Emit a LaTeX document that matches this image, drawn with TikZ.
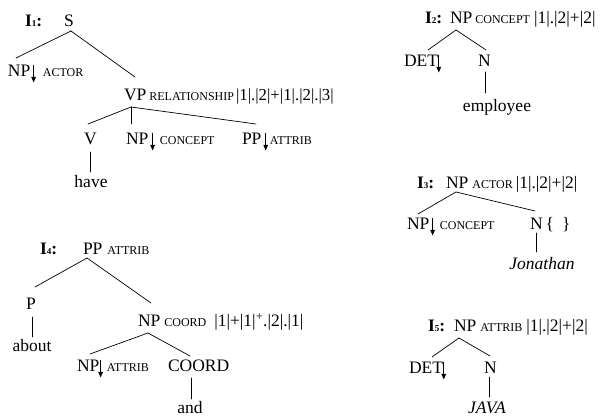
\documentclass[tikz,border=0pt]{standalone}
\usepackage{fontspec}
\setmainfont{Liberation Serif}
\usetikzlibrary{arrows.meta}
\newcommand{\fs}{\fontsize{17.5}{20}\selectfont}
\newcommand{\smc}[1]{{\fontsize{12}{14}\selectfont #1}}
\newcommand{\darr}{\tikz[baseline=0pt]\draw[line width=0.9pt,-{Triangle[length=5.5pt,width=4.5pt]}] (0pt,12pt)--(0pt,-5.5pt);}
\newcommand{\lab}[1]{\textbf{I}{\fontsize{9}{9}\selectfont\textbf{#1}}\textbf{:}}
\begin{document}
\begin{tikzpicture}[x=1pt,y=-1pt,
  lbl/.style={anchor=base west,inner sep=0pt,outer sep=0pt,font=\fs},
  leaf/.style={anchor=base,inner sep=0pt,outer sep=0pt,font=\fs},
  br/.style={line width=0.7pt,line cap=round}]
\useasboundingbox (0,0) rectangle (603,419);
% ---------- I1 ----------
\node[lbl] (l1) at (25,27) {\lab{1}};
\node[lbl] (s) at (64,27) {S};
\node[lbl] (npa) at (8,77) {NP\hspace{1pt}\darr\hspace{7pt}\smc{ACTOR}};
\node[lbl] (vp) at (124,101) {VP\hspace{3pt}\smc{RELATIONSHIP}\hspace{2pt}{\fontsize{16.8}{20}\selectfont|1|.|2|+|1|.|2|.|3|}};
\node[lbl] (v) at (84,145) {V};
\node[lbl] (npc) at (126,145) {NP\hspace{2pt}\darr\hspace{5pt}\smc{CONCEPT}};
\node[lbl] (ppa) at (242,145) {PP\hspace{2pt}\darr\hspace{2pt}\smc{ATTRIB}};
\node[leaf] (have) at (91,188) {have};
\draw[br] ([shift={(7,4)}]s.base west) -- ([shift={(8,-19)}]npa.base west);
\draw[br] ([shift={(7,4)}]s.base west) -- ([shift={(11,-24)}]vp.base west);
\draw[br] ([shift={(7,6)}]vp.base west) -- ([shift={(4,-21)}]v.base west);
\draw[br] ([shift={(7,6)}]vp.base west) -- ([shift={(5,-21)}]npc.base west);
\draw[br] ([shift={(7,6)}]vp.base west) -- ([shift={(14,-21)}]ppa.base west);
\draw[br] ([shift={(6,7)}]v.base west) -- ([shift={(-1,-16)}]have.base);
% ---------- I4 ----------
\node[lbl] (l4) at (40,255) {\lab{4}};
\node[lbl] (pp4) at (83,255) {PP\hspace{5pt}\smc{ATTRIB}};
\node[lbl] (p4) at (26,310) {P};
\node[leaf] (about) at (32,352) {about};
\node[lbl] (npco) at (138,327) {NP\hspace{4pt}\smc{COORD}\hspace{8pt}|1|+|1|\textsuperscript{+}.|2|.|1|};
\node[lbl] (npat) at (77,372) {NP\hspace{-1pt}\darr\hspace{4pt}\smc{ATTRIB}};
\node[lbl] (coord) at (168,372) {COORD};
\node[leaf] (and) at (190,414) {and};
\draw[br] ([shift={(4,3)}]pp4.base west) -- ([shift={(9,-23)}]p4.base west);
\draw[br] ([shift={(4,3)}]pp4.base west) -- ([shift={(13,-24)}]npco.base west);
\draw[br] ([shift={(6,7)}]p4.base west) -- ([shift={(0,-15)}]about.base);
\draw[br] ([shift={(10,6)}]npco.base west) -- ([shift={(13,-18)}]npat.base west);
\draw[br] ([shift={(10,6)}]npco.base west) -- ([shift={(22,-16)}]coord.base west);
\draw[br] ([shift={(23,6)}]coord.base west) -- ([shift={(1,-15)}]and.base);
% ---------- I2 ----------
\node[lbl] (l2) at (425,24) {\lab{2}};
\node[lbl] (np2) at (450,24) {NP\hspace{3pt}\smc{CONCEPT}\hspace{4pt}|1|.|2|+|2|};
\node[lbl] (det2) at (404,67) {DET\hspace{-1.5pt}\darr};
\node[lbl] (n2) at (478,67) {N};
\node[leaf] (emp) at (497,112) {employee};
\draw[br] ([shift={(6,6)}]np2.base west) -- ([shift={(24,-17)}]det2.base west);
\draw[br] ([shift={(6,6)}]np2.base west) -- ([shift={(8,-17)}]n2.base west);
\draw[br] ([shift={(7,5)}]n2.base west) -- ([shift={(-12,-19)}]emp.base);
% ---------- I3 ----------
\node[lbl] (l3) at (417,189) {\lab{3}};
\node[lbl] (np3) at (446,189) {NP\hspace{4pt}\smc{ACTOR}\hspace{3pt}|1|.|2|+|2|};
\node[lbl] (npc3) at (407,230) {NP\hspace{1pt}\darr\hspace{5pt}\smc{CONCEPT}};
\node[lbl] (n3) at (530,230) {N\hspace{3pt}\{\hspace{8pt}\}};
\node[leaf] (jon) at (542,270) {\itshape Jonathan};
\draw[br] ([shift={(10,3)}]np3.base west) -- ([shift={(11,-16)}]npc3.base west);
\draw[br] ([shift={(10,3)}]np3.base west) -- ([shift={(5,-19)}]n3.base west);
\draw[br] ([shift={(6,3)}]n3.base west) -- ([shift={(-6,-18)}]jon.base);
% ---------- I5 ----------
\node[lbl] (l5) at (428,332) {\lab{5}};
\node[lbl] (np5) at (454,332) {NP\hspace{4pt}\smc{ATTRIB}\hspace{4pt}|1|.|2|+|2|};
\node[lbl] (det5) at (409,374) {DET\hspace{-1.5pt}\darr};
\node[lbl] (n5) at (484,374) {N};
\node[leaf] (java) at (487,414) {\itshape JAVA};
\draw[br] ([shift={(5,6)}]np5.base west) -- ([shift={(23,-17)}]det5.base west);
\draw[br] ([shift={(5,6)}]np5.base west) -- ([shift={(6,-18)}]n5.base west);
\draw[br] ([shift={(5,3)}]n5.base west) -- ([shift={(2,-17)}]java.base);
\end{tikzpicture}
\end{document}
